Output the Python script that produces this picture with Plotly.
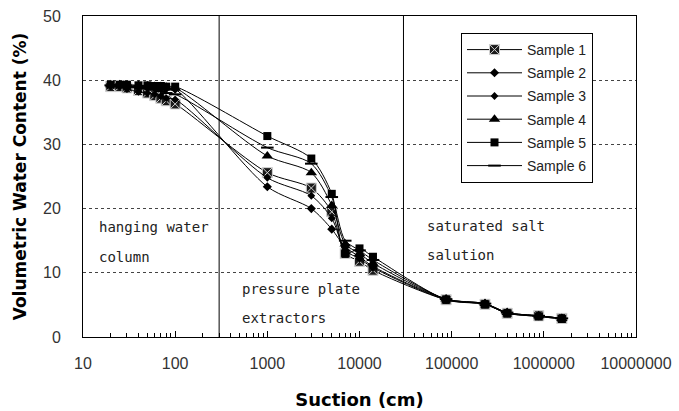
import plotly.graph_objects as go

# ---- data ----
suction = [20, 25, 30, 40, 50, 60, 70, 80, 100,
           1000, 3000, 5000, 7000, 10000, 14000,
           87000, 230000, 400000, 880000, 1570000]

sample1 = [39.0, 39.0, 38.8, 38.4, 38.0, 37.6, 37.2, 36.8, 36.3,
           25.6, 23.2, 19.5, 13.0, 11.8, 10.4,
           5.8, 5.1, 3.7, 3.3, 2.9]
sample2 = [39.2, 39.2, 39.0, 39.0, 38.9, 38.8, 38.8, 38.7, 38.6,
           23.4, 20.0, 16.8, 14.0, 12.5, 11.0,
           5.9, 5.2, 3.8, 3.3, 2.9]
sample3 = [39.1, 39.0, 38.6, 38.2, 38.0, 37.8, 37.5, 37.2, 37.0,
           24.8, 22.0, 18.5, 13.5, 12.2, 10.8,
           5.8, 5.1, 3.7, 3.2, 2.8]
sample4 = [39.3, 39.3, 39.2, 39.2, 39.1, 39.0, 39.0, 38.9, 38.8,
           28.2, 25.6, 20.5, 14.5, 13.0, 11.5,
           5.9, 5.2, 3.8, 3.3, 2.9]
sample5 = [39.3, 39.3, 39.3, 39.2, 39.2, 39.1, 39.1, 39.0, 39.0,
           31.3, 27.8, 22.3, 13.0, 13.8, 12.5,
           5.8, 5.1, 3.7, 3.2, 2.8]
sample6 = [39.2, 39.1, 39.0, 38.9, 38.7, 38.5, 38.3, 38.0, 37.8,
           29.5, 27.0, 21.8, 15.0, 13.5, 12.0,
           5.9, 5.2, 3.8, 3.3, 2.9]

names = ["Sample 1", "Sample 2", "Sample 3", "Sample 4", "Sample 5", "Sample 6"]
series = [sample1, sample2, sample3, sample4, sample5, sample6]

boundaries = [300, 30000]           # method boundaries (cm)
y_ticks = [0, 10, 20, 30, 40, 50]
x_tickvals = [10, 100, 1000, 10000, 100000, 1000000, 10000000]
x_ticktext = ["10", "100", "1000", "10000", "100000", "1000000", "10000000"]

region_labels = [
    ("hanging water", 97, 227), ("column", 97, 257),
    ("pressure plate", 240, 289), ("extractors", 240, 318),
    ("saturated salt", 425, 226), ("salution", 425, 255),
]

# ---- styles ----
markers = [
    dict(symbol="square-x", size=10, color="#1a1a1a", line=dict(color="#d0d0d0", width=1)),
    dict(symbol="diamond", size=7, color="black", line=dict(width=0)),
    dict(symbol="diamond", size=6, color="black", line=dict(width=0)),
    dict(symbol="triangle-up", size=10, color="black", line=dict(width=0)),
    dict(symbol="square", size=8, color="black", line=dict(width=0)),
    dict(symbol="line-ew", size=9, color="black", line=dict(color="black", width=2)),
]

L, R, T, B = 83, 636, 16, 337
W, H = 679, 411

fig = go.Figure()
for i, (name, ys, mk) in enumerate(zip(names, series, markers)):
    fig.add_trace(go.Scatter(
        x=suction, y=ys, name=name, mode="lines+markers", legendgroup=f"g{i}",
        line=dict(color="black", width=1, shape="spline", smoothing=0.8),
        marker=mk,
    ))

for b in boundaries:
    fig.add_shape(type="line", xref="x", yref="y", x0=b, x1=b, y0=y_ticks[0], y1=y_ticks[-1],
                  line=dict(color="black", width=1))

for txt, px, py in region_labels:
    fig.add_annotation(text=txt, xref="paper", yref="paper",
                       x=(px - L) / (R - L), y=(B - py) / (B - T),
                       xanchor="left", yanchor="middle", showarrow=False,
                       font=dict(family="DejaVu Sans Mono", size=14, color="#222"))

fig.update_layout(
    width=W, height=H,
    margin=dict(l=L, r=W - R, t=T, b=H - B, pad=0),
    paper_bgcolor="white", plot_bgcolor="white",
    font=dict(family="Liberation Sans", color="#222"),
    showlegend=True,
    legend=dict(x=(461 - L) / (R - L), y=(B - 33) / (B - T), xanchor="left", yanchor="top",
                bordercolor="black", borderwidth=1, bgcolor="white",
                font=dict(family="Liberation Sans", size=14, color="#222"),
                itemwidth=55, tracegroupgap=2, traceorder="grouped"),
)

fig.update_xaxes(
    type="log", range=[1, 7], automargin=False,
    tickvals=x_tickvals, ticktext=x_ticktext,
    ticks="inside", ticklen=6, tickcolor="black",
    minor=dict(ticks="inside", ticklen=4, tickcolor="black", dtick="D1", showgrid=False),
    showgrid=False, zeroline=False,
    showline=True, linecolor="black", linewidth=1, mirror=True,
    tickfont=dict(family="Liberation Sans", size=16, color="#333"),
    ticklabelstandoff=12,
    title=dict(text="Suction (cm)", font=dict(family="DejaVu Sans", size=18, color="black", weight="bold"),
               standoff=22),
)
fig.update_yaxes(
    range=[0, 50], tickvals=y_ticks, automargin=False,
    ticks="", showgrid=True, gridcolor="#444", griddash="3px,3px", gridwidth=1,
    zeroline=False,
    showline=True, linecolor="black", linewidth=1, mirror=True,
    tickfont=dict(family="Liberation Sans", size=16, color="#333"),
    ticklabelstandoff=18,
    title=dict(text="Volumetric Water Content (%)",
               font=dict(family="DejaVu Sans", size=17, color="black", weight="bold"),
               standoff=12),
)

fig.write_html("out.html", config={"displayModeBar": False},
               post_script="document.body.style.margin='0';")
